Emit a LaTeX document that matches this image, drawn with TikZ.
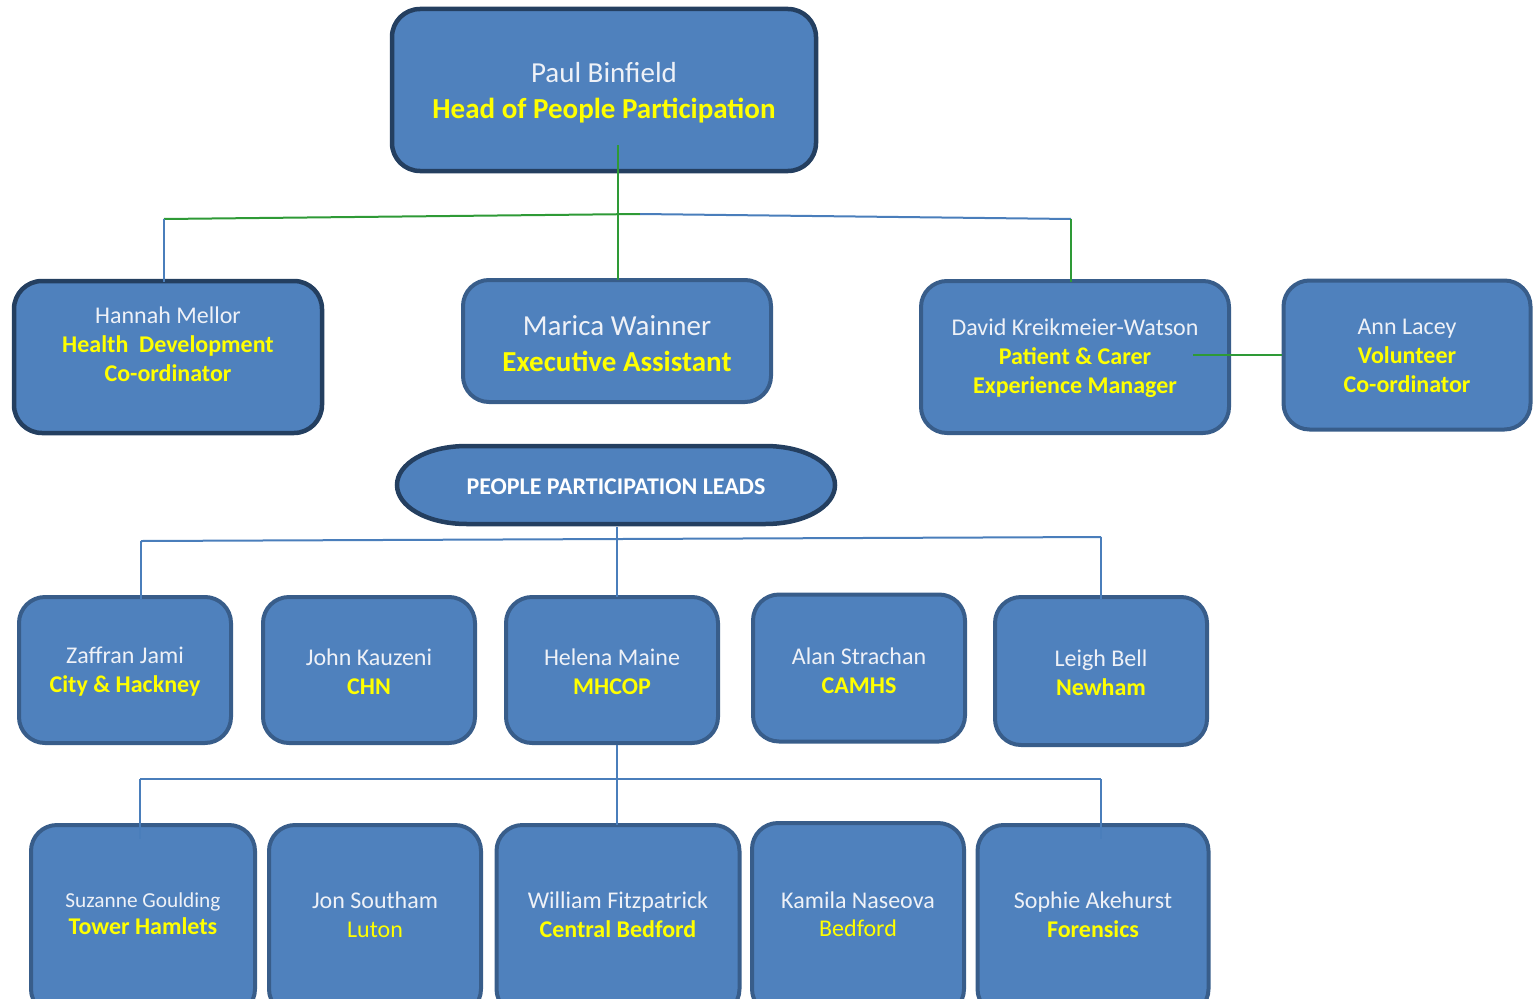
\documentclass[tikz,border=0pt]{standalone}
\usepackage{fontspec}
\setmainfont{Carlito}
\definecolor{boxfill}{HTML}{4F81BD}
\definecolor{darkedge}{HTML}{243F60}
\definecolor{midedge}{HTML}{385D8A}
\definecolor{namecol}{HTML}{EEF1F7}
\definecolor{rolecol}{HTML}{FFFF00}
\definecolor{greenline}{HTML}{2E9A36}
\definecolor{blueline}{HTML}{4A7EBB}
\tikzset{
  cardA/.style={draw=darkedge, line width=4.5pt, fill=boxfill, rounded corners=28pt, inner sep=0pt},
  cardB/.style={draw=midedge, line width=4pt, fill=boxfill, rounded corners=26pt, inner sep=0pt},
  txt/.style={align=center, text=namecol, inner sep=0pt},
  big/.style={font=\fontsize{29}{36}\selectfont},
  mid/.style={font=\fontsize{24}{29}\selectfont},
  sml/.style={font=\fontsize{24}{29}\selectfont},
  gline/.style={draw=greenline, line width=2pt},
  bline/.style={draw=blueline, line width=2pt},
}
\newcommand{\rl}[1]{\textcolor{rolecol}{\bfseries #1}}
\begin{document}
\begin{tikzpicture}[x=1pt,y=-1pt]
\useasboundingbox (0,0) rectangle (1538,998);
\clip (0,0) rectangle (1538,998);

\coordinate (hj) at (164,219);
\coordinate (mj) at (640,214);
\coordinate (dj) at (1071,219);
\coordinate (tin) at (618,145);

% ---- top level boxes
\node[cardA, minimum width=424pt, minimum height=162pt] (head) at (604,90) {};
\node[cardA, minimum width=308pt, minimum height=152pt] (hannah) at (168,357) {};
\node[cardB, minimum width=308pt, minimum height=122pt] (marica) at (617,341) {};
\node[cardB, minimum width=308pt, minimum height=152pt] (david) at (1075,357) {};
\node[cardB, minimum width=247pt, minimum height=149pt] (ann) at (1407,355) {};

\draw[gline] (tin) -- ([yshift=-2pt]tin |- marica.north);
\draw[gline] (hj) -- (mj);
\draw[bline] (mj) -- (dj);
\draw[bline] (hj) -- ([yshift=-3pt]hj |- hannah.north);
\draw[gline] (dj) -- ([yshift=-3pt]dj |- david.north);
\coordinate (dl) at (1193,355);
\draw[gline] (dl) -- (ann.west);

\node[txt, big] (headT) at (604,93) {Paul Binfield\\ \rl{Head of People Participation}};
\node[txt, mid] (hannahT) at (168,344) {Hannah Mellor\\ \rl{Health\ \ Development}\\ \rl{Co-ordinator}};
\node[txt, big] (maricaT) at (617,344) {Marica Wainner\\ \rl{Executive Assistant}};
\node[txt, mid] (davidT) at (1075,358) {David Kreikmeier-Watson\\ \rl{Patient \& Carer}\\ \rl{Experience Manager}};
\node[txt, mid] (annT) at (1407,356) {Ann Lacey\\ \rl{Volunteer}\\ \rl{Co-ordinator}};

% ---- people participation leads
\node[minimum width=438pt, minimum height=80pt, inner sep=0pt] (ppl) at (616,485) {};
\draw[draw=darkedge, line width=4.5pt, fill=boxfill]
  (467,446) -- (765,446) .. controls (806,446) and (835,464) .. (835,485)
  .. controls (835,506) and (806,524) .. (765,524) -- (467,524)
  .. controls (426,524) and (397,506) .. (397,485)
  .. controls (397,464) and (426,446) .. (467,446) -- cycle;
\node[txt, text=white, font=\fontsize{24}{28}\selectfont\bfseries] (pplT) at (616,487) {PEOPLE PARTICIPATION LEADS};

% ---- row 2
\node[cardB, minimum width=212pt, minimum height=146pt] (zaffran) at (125,670) {};
\node[cardB, minimum width=212pt, minimum height=146pt] (john) at (369,670) {};
\node[cardB, minimum width=212pt, minimum height=146pt] (helena) at (612,670) {};
\node[cardB, minimum width=212pt, minimum height=147pt] (alan) at (859,668) {};
\node[cardB, minimum width=212pt, minimum height=148pt] (leigh) at (1101,671) {};

\coordinate (pa) at (141,541);
\coordinate (pc) at (617,539);
\coordinate (pb) at (1101,537);
\draw[bline] ([yshift=-2pt]pc |- ppl.south) -- ([yshift=-2pt]pc |- helena.north);
\draw[bline] (pa) -- (pb);
\draw[bline] (pa) -- ([yshift=-4pt]pa |- zaffran.north);
\draw[bline] (pb) -- ([yshift=-4pt]pb |- leigh.north);

\node[txt, sml] (zaffranT) at (125,672) {Zaffran Jami\\ \rl{City \& Hackney}};
\node[txt, sml] (johnT) at (369,672) {John Kauzeni\\ \rl{CHN}};
\node[txt, sml] (helenaT) at (612,672) {Helena Maine\\ \rl{MHCOP}};
\node[txt, sml] (alanT) at (859,671) {Alan Strachan\\ \rl{CAMHS}};
\node[txt, sml] (leighT) at (1101,673) {Leigh Bell\\ \rl{Newham}};

% ---- row 3
\node[cardB, minimum width=224pt, minimum height=190pt] (suzanne) at (143,920) {};
\node[cardB, minimum width=212pt, minimum height=190pt] (jon) at (375,920) {};
\node[cardB, minimum width=243pt, minimum height=190pt] (william) at (618,920) {};
\node[cardB, minimum width=212pt, minimum height=192pt] (kamila) at (858,919) {};
\node[cardB, minimum width=231pt, minimum height=190pt] (sophie) at (1093,920) {};

\coordinate (qa) at (140,779);
\coordinate (qc) at (617,779);
\coordinate (qb) at (1101,779);
\draw[bline] (qc |- helena.south) -- ([yshift=-2pt]qc |- william.north);
\draw[bline] (qa) -- (qb);
\draw[bline] (qa) -- ([yshift=-16pt]qa |- suzanne.north);
\draw[bline] (qb) -- ([yshift=-16pt]qb |- sophie.north);

\node[txt, font=\fontsize{21.3}{27}\selectfont] (suzanneT) at (143,914) {Suzanne Goulding\\ \rl{\fontsize{24}{27}\selectfont Tower Hamlets}};
\node[txt, sml] (jonT) at (375,915) {Jon Southam\\ \textcolor{rolecol}{Luton}};
\node[txt, sml] (williamT) at (618,915) {William Fitzpatrick\\ \rl{Central Bedford}};
\node[txt, font=\fontsize{24}{28}\selectfont] (kamilaT) at (858,914) {Kamila Naseova\\ \textcolor{rolecol}{Bedford}};
\node[txt, sml] (sophieT) at (1093,915) {Sophie Akehurst\\ \rl{Forensics}};
\end{tikzpicture}
\end{document}
